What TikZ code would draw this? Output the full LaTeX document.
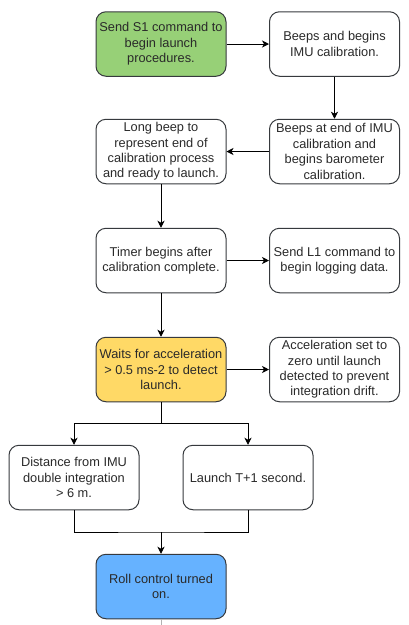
\documentclass[tikz,border=0pt]{standalone}
\usepackage{fontspec}
\setmainfont{Liberation Sans}
\usetikzlibrary{arrows.meta}
\definecolor{greenf}{HTML}{97D077}
\definecolor{yellowf}{HTML}{FFD966}
\definecolor{bluef}{HTML}{66B2FF}
\definecolor{edgec}{HTML}{36393D}
\definecolor{txt}{HTML}{2A2A2A}
\tikzset{
  box/.style={draw=edgec, line width=1pt, rounded corners=10pt, fill=white,
    minimum width=130pt, minimum height=64.5pt, align=center, inner sep=1pt,
    text=txt, font=\fontsize{12.8}{15.4}\selectfont},
  conn/.style={draw=black, line width=0.9pt},
  arr/.style={conn, -{Stealth[length=7pt,width=7pt,inset=2pt]}}
}
\begin{document}
\begin{tikzpicture}[x=1pt,y=-1pt]
\useasboundingbox (0,0) rectangle (409,625);
\node[box, fill=greenf] (b1) at (161,44) {Send S1 command to\\begin launch\\procedures.};
\node[box] (b2) at (334.5,44) {Beeps and begins\\IMU calibration.};
\node[box] (b3) at (334.5,151.5) {Beeps at end of IMU\\calibration and\\begins barometer\\calibration.};
\node[box] (b4) at (161,151.5) {Long beep to\\represent end of\\calibration process\\and ready to launch.};
\node[box] (b5) at (161,260.5) {Timer begins after\\calibration complete.};
\node[box] (b6) at (334.5,260.5) {Send L1 command to\\begin logging data.};
\node[box, fill=yellowf] (b7) at (161,369.5) {Waits for acceleration\\> 0.5 ms-2 to detect\\launch.};
\node[box] (b8) at (334.5,369.5) {Acceleration set to\\zero until launch\\detected to prevent\\integration drift.};
\node[box] (b9) at (74,477.5) {Distance from IMU\\double integration\\> 6 m.};
\node[box] (b10) at (248,477.5) {Launch T+1 second.};
\node[box, fill=bluef] (b11) at (161,586.5) {Roll control turned\\on.};
\coordinate (s) at (161,423);
\coordinate (m) at (161,532);
\coordinate (e) at (161,625);
\draw[arr] (b1) -- (b2);
\draw[arr] (b2) -- (b3);
\draw[arr] (b3) -- (b4);
\draw[arr] (b4) -- (b5);
\draw[arr] (b5) -- (b6);
\draw[arr] (b5) -- (b7);
\draw[arr] (b7) -- (b8);
\draw[conn] (b7.south) -- (s);
\draw[arr] (s) -| (b9.north);
\draw[arr] (s) -| (b10.north);
\draw[conn] (b9.south) |- (m) -| (b10.south);
\draw[arr] (m) -- (b11.north);
\draw[draw=gray!60, line width=0.6pt] (b11.south) -- (e);
\end{tikzpicture}
\end{document}
